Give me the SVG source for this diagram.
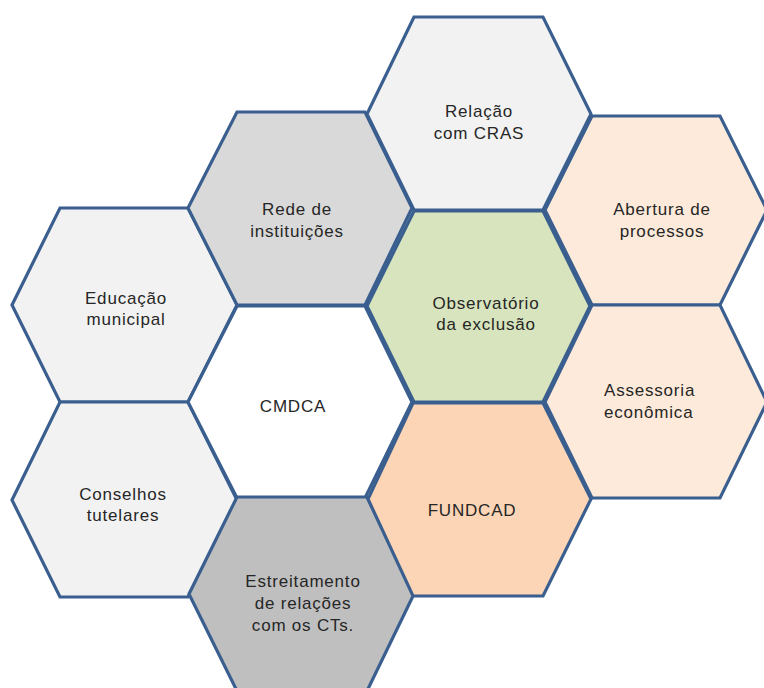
<svg xmlns="http://www.w3.org/2000/svg" width="764" height="688" viewBox="0 0 764 688">
<style>
.hex{stroke:#3A5F8F;stroke-width:3.2;stroke-linejoin:miter}
.t{font-family:"Liberation Sans",Arial,sans-serif;font-size:17px;fill:#262626;letter-spacing:0.8px}
.m{text-anchor:middle}
</style>
<rect width="764" height="688" fill="#ffffff"/>
<g id="educacao">
<polygon class="hex" fill="#F2F2F2" points="12,305 60,208 188,208 237,305 188,402 60,402"/>
<text class="t m" x="126" y="304">Educação</text>
<text class="t m" x="126" y="325">municipal</text>
</g>
<g id="conselhos">
<polygon class="hex" fill="#F2F2F2" points="12,500 60,402 188,402 237,500 188,597 60,597"/>
<text class="t m" x="123" y="500">Conselhos</text>
<text class="t m" x="123" y="521">tutelares</text>
</g>
<g id="rede">
<polygon class="hex" fill="#D9D9D9" points="188,208 237,112 365,112 412,208 365,305 237,305"/>
<text class="t m" x="297" y="215">Rede de</text>
<text class="t m" x="297" y="237">instituições</text>
</g>
<g id="cmdca">
<polygon class="hex" fill="#FFFFFF" points="188,402 237,306 365,306 412,402 365,498 237,498"/>
<text class="t m" x="293" y="412">CMDCA</text>
</g>
<g id="estreitamento">
<polygon class="hex" fill="#BFBFBF" points="189,594 237,497 367,497 414,594 367,691 237,691"/>
<text class="t m" x="303" y="587">Estreitamento</text>
<text class="t m" x="303" y="609">de relações</text>
<text class="t m" x="303" y="631">com os CTs.</text>
</g>
<g id="relacao">
<polygon class="hex" fill="#F2F2F2" points="367,114 414,17 543,17 591,114 543,210 414,210"/>
<text class="t m" x="479" y="117">Relação</text>
<text class="t m" x="479" y="139">com CRAS</text>
</g>
<g id="observatorio">
<polygon class="hex" fill="#D7E4BD" points="367,306 414,211 543,211 590,306 543,402 414,402"/>
<text class="t m" x="486" y="309">Observatório</text>
<text class="t m" x="486" y="330">da exclusão</text>
</g>
<g id="fundcad">
<polygon class="hex" fill="#FBD5B5" points="368,499 413,403 543,403 591,499 543,596 413,596"/>
<text class="t m" x="472" y="516">FUNDCAD</text>
</g>
<g id="abertura">
<polygon class="hex" fill="#FDEADA" points="545,210 592,116 720,116 767,210 720,305 592,305"/>
<text class="t m" x="662" y="215">Abertura de</text>
<text class="t m" x="662" y="237">processos</text>
</g>
<g id="assessoria">
<polygon class="hex" fill="#FDEADA" points="545,402 592,305 720,305 767,402 720,498 592,498"/>
<text class="t" x="604" y="396">Assessoria</text>
<text class="t" x="604" y="418">econômica</text>
</g>
<g id="connectors"/>
</svg>
